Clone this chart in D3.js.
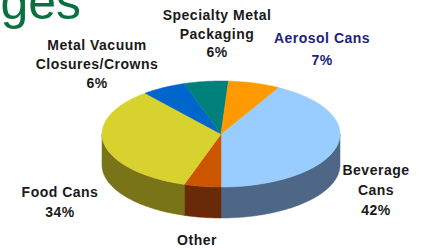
<!DOCTYPE html>
<html>
<head>
<meta charset="utf-8">
<script src="https://cdn.jsdelivr.net/npm/d3@7"></script>
<style>
  html, body { margin: 0; padding: 0; background: #fff; }
  svg { display: block; }
  text { font-family: "Liberation Sans", Arial, sans-serif; }
</style>
</head>
<body>
<svg id="chart" width="421" height="250"></svg>
<script>
// --- data ---
const categories = ["Beverage Cans", "Other", "Food Cans", "Metal Vacuum Closures/Crowns", "Specialty Metal Packaging", "Aerosol Cans"];
const shares = [42, 5, 34, 6, 6, 7];
const labelLines = [
  ["Beverage", "Cans", "42%"],
  ["Other"],
  ["Food Cans", "34%"],
  ["Metal Vacuum", "Closures/Crowns", "6%"],
  ["Specialty Metal", "Packaging", "6%"],
  ["Aerosol Cans", "7%"]
];

// --- styles / layout ---
const topColors  = ["#99CCFF", "#CC5500", "#D8D22E", "#0066CC", "#00807A", "#FF9900"];
const sideColors = ["#4E6786", "#6A2A08", "#7A7418", "#003D7A", "#004D49", "#995C00"];
const labelColors = ["#1a1a1a", "#1a1a1a", "#1a1a1a", "#1a1a1a", "#1a1a1a", "#1B237A"];
// label anchor (centre x, first baseline y)
const labelPos = [[376, 175], [197, 245], [60, 197], [97, 50], [217, 20], [322, 43]];
const lineGap = [20, 0, 20, 19, 18.5, 22];

const W = 421, H = 250;
const cx = 221, cy = 134, rx = 119, ry = 53, depth = 31;
const startDeg = 28.8;

const svg = d3.select("#chart");

// title fragment cropped at the top-left
svg.append("text")
  .attr("x", 81).attr("y", 19)
  .attr("text-anchor", "end")
  .attr("font-size", 50)
  .attr("fill", "#0B7040")
  .text("ges");

const color = d3.scaleOrdinal().domain(categories).range(topColors);
const side = d3.scaleOrdinal().domain(categories).range(sideColors);

const a0 = startDeg * Math.PI / 180;
const pie = d3.pie().sort(null).value(d => d.v)
  .startAngle(a0).endAngle(a0 + 2 * Math.PI);
const arcs = pie(categories.map((c, i) => ({ c, v: shares[i], i })));

const px = a => cx + rx * Math.sin(a);
const py = (a, dy = 0) => cy - ry * Math.cos(a) + dy;

function rimPoints(s, e, dy) {
  const n = Math.max(2, Math.ceil((e - s) / 0.02));
  return d3.range(n + 1).map(k => {
    const a = s + (e - s) * k / n;
    return [px(a), py(a, dy)];
  });
}

const line = d3.line();

// side walls (front half only: pi/2 .. 3pi/2 in each turn)
const gSide = svg.append("g");
arcs.forEach(d => {
  for (let t = -1; t <= 1; t++) {
    const lo = Math.PI / 2 + t * 2 * Math.PI, hi = 3 * Math.PI / 2 + t * 2 * Math.PI;
    const s = Math.max(d.startAngle, lo), e = Math.min(d.endAngle, hi);
    if (e <= s) continue;
    const topRim = rimPoints(s, e, 0);
    const botRim = rimPoints(s, e, depth).reverse();
    gSide.append("path")
      .attr("d", line(topRim.concat(botRim)) + "Z")
      .attr("fill", side(d.data.c))
      .attr("stroke", side(d.data.c))
      .attr("stroke-width", 0.5);
  }
});

// top faces
const gTop = svg.append("g");
arcs.forEach(d => {
  const pts = [[cx, cy]].concat(rimPoints(d.startAngle, d.endAngle, 0));
  gTop.append("path")
    .attr("d", line(pts) + "Z")
    .attr("fill", color(d.data.c))
    .attr("stroke", color(d.data.c))
    .attr("stroke-width", 0.5);
});

// labels
const gLab = svg.append("g");
labelLines.forEach((lines, i) => {
  const t = gLab.append("text")
    .attr("text-anchor", "middle")
    .attr("font-size", 14)
    .attr("font-weight", "bold")
    .attr("letter-spacing", 0.5)
    .attr("fill", labelColors[i]);
  lines.forEach((s, k) => {
    t.append("tspan")
      .attr("x", labelPos[i][0])
      .attr("y", labelPos[i][1] + k * lineGap[i])
      .text(s);
  });
});
</script>
</body>
</html>
